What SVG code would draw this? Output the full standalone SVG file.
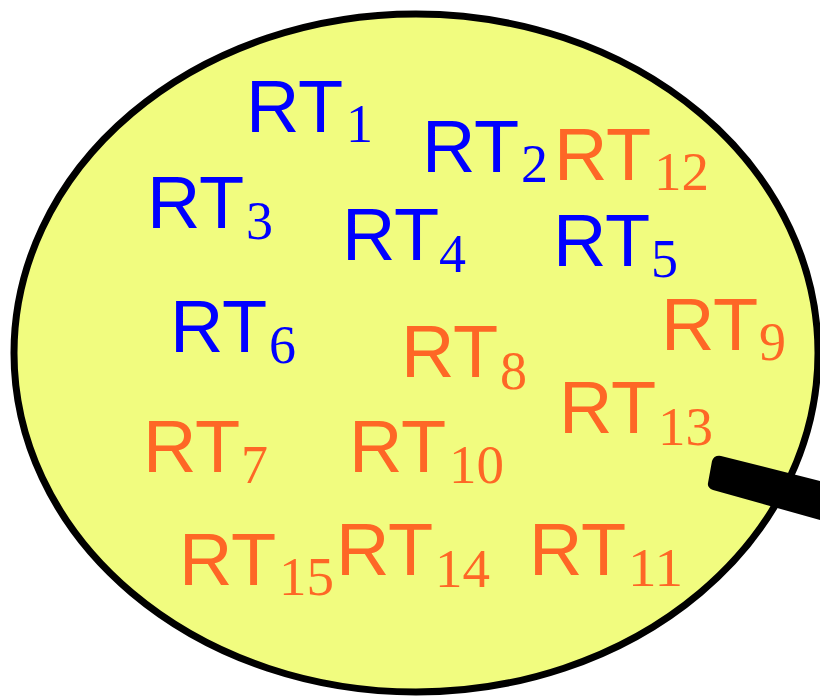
<svg xmlns="http://www.w3.org/2000/svg" width="820" height="698" viewBox="0 0 820 698">
<style>
.rt{font-family:"Liberation Sans",Arial,sans-serif;font-size:74px}
.sub{font-family:"Liberation Serif","Times New Roman",serif;font-size:54px}
.b{fill:#0000ff}
.o{fill:#fe6726}
</style>
<g id="lens">
<ellipse cx="416" cy="353" rx="402" ry="339" fill="#f1fc7f" stroke="#000" stroke-width="7"/>
<path d="M721,456 L820,481 L820,520 L713,490 Q707,488 708,483 L712,461 Q714,455 721,456 Z" fill="#000"/>
</g>
<g id="rt1"><text class="rt b" x="246" y="132">RT</text><text class="sub b" x="346" y="142" textLength="27" lengthAdjust="spacingAndGlyphs">1</text></g>
<g id="rt2"><text class="rt b" x="422" y="172">RT</text><text class="sub b" x="521" y="182" textLength="27" lengthAdjust="spacingAndGlyphs">2</text></g>
<g id="rt12"><text class="rt o" x="554" y="180">RT</text><text class="sub o" x="654" y="190" textLength="55" lengthAdjust="spacingAndGlyphs">12</text></g>
<g id="rt3"><text class="rt b" x="147" y="228">RT</text><text class="sub b" x="246" y="239" textLength="27" lengthAdjust="spacingAndGlyphs">3</text></g>
<g id="rt4"><text class="rt b" x="342" y="260">RT</text><text class="sub b" x="439" y="272" textLength="27" lengthAdjust="spacingAndGlyphs">4</text></g>
<g id="rt5"><text class="rt b" x="553" y="266">RT</text><text class="sub b" x="651" y="277" textLength="27" lengthAdjust="spacingAndGlyphs">5</text></g>
<g id="rt6"><text class="rt b" x="170" y="352">RT</text><text class="sub b" x="269" y="363" textLength="27" lengthAdjust="spacingAndGlyphs">6</text></g>
<g id="rt8"><text class="rt o" x="401" y="377">RT</text><text class="sub o" x="500" y="389" textLength="27" lengthAdjust="spacingAndGlyphs">8</text></g>
<g id="rt9"><text class="rt o" x="661" y="350">RT</text><text class="sub o" x="759" y="360" textLength="27" lengthAdjust="spacingAndGlyphs">9</text></g>
<g id="rt13"><text class="rt o" x="559" y="433">RT</text><text class="sub o" x="658" y="445" textLength="55" lengthAdjust="spacingAndGlyphs">13</text></g>
<g id="rt7"><text class="rt o" x="143" y="472">RT</text><text class="sub o" x="241" y="483" textLength="27" lengthAdjust="spacingAndGlyphs">7</text></g>
<g id="rt10"><text class="rt o" x="349" y="472">RT</text><text class="sub o" x="449" y="483" textLength="55" lengthAdjust="spacingAndGlyphs">10</text></g>
<g id="rt15"><text class="rt o" x="179" y="585">RT</text><text class="sub o" x="279" y="595" textLength="55" lengthAdjust="spacingAndGlyphs">15</text></g>
<g id="rt14"><text class="rt o" x="336" y="575">RT</text><text class="sub o" x="435" y="587" textLength="55" lengthAdjust="spacingAndGlyphs">14</text></g>
<g id="rt11"><text class="rt o" x="529" y="575">RT</text><text class="sub o" x="628" y="586" textLength="55" lengthAdjust="spacingAndGlyphs">11</text></g>
<g id="connectors"></g>
</svg>
